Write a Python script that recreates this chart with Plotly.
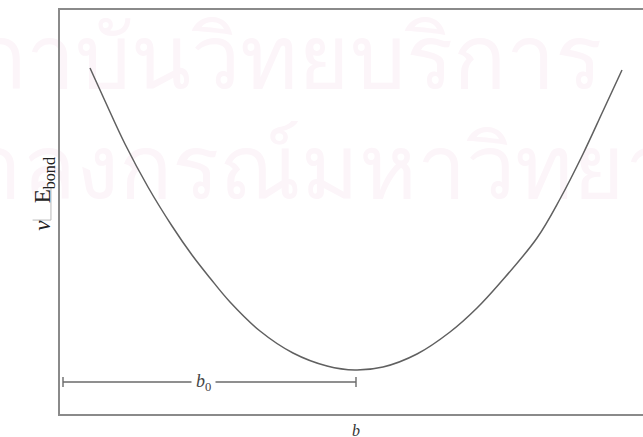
import plotly.graph_objects as go

# Bond-stretching energy curve: bond length b vs. energy E_bond
b_vals = [0.30, 0.45, 0.65, 0.88, 1.12, 1.32, 1.50, 1.70, 2.00, 2.33, 2.67, 2.95,
          3.23, 3.57, 3.90, 4.17, 4.40, 4.77, 5.00, 5.23, 5.43, 5.62]
e_vals = [3.46, 3.13, 2.70, 2.27, 1.88, 1.59, 1.36, 1.12, 0.83, 0.61, 0.48, 0.44,
          0.47, 0.60, 0.82, 1.06, 1.31, 1.76, 2.15, 2.60, 3.03, 3.44]

# Equilibrium bond length marker
b0_start = 0.03
b0_end = 2.96
b0_level = 0.32

watermark_lines = ["สถาบันวิทยบริการ", "จุฬาลงกรณ์มหาวิทยาลัย"]

fig = go.Figure()

# Faint background watermark, drawn first so it sits beneath the curve
fig.add_trace(go.Scatter(
    x=[2.0, 2.6], y=[3.48, 2.38], mode="text",
    text=watermark_lines, textposition="middle center",
    textfont=dict(size=88, color="#fcf5f9"),
    cliponaxis=False, hoverinfo="skip", showlegend=False,
))

fig.add_trace(go.Scatter(
    x=b_vals, y=e_vals, mode="lines",
    line=dict(color="#606060", width=1.5, shape="spline", smoothing=1.0),
    hoverinfo="skip", showlegend=False,
))

# b0 bracket with end ticks
fig.add_trace(go.Scatter(
    x=[b0_start, b0_end], y=[b0_level, b0_level], mode="lines",
    line=dict(color="#6a6a6a", width=1.4),
    hoverinfo="skip", showlegend=False,
))
for xb in (b0_start, b0_end):
    fig.add_trace(go.Scatter(
        x=[xb, xb], y=[b0_level - 0.05, b0_level + 0.05], mode="lines",
        line=dict(color="#6a6a6a", width=1.4),
        hoverinfo="skip", showlegend=False,
    ))

fig.add_annotation(
    x=(b0_start + b0_end) / 2 - 0.06, y=b0_level, xref="x", yref="y",
    text="<i>b</i><sub>0</sub>", showarrow=False, bgcolor="white",
    font=dict(family="Liberation Serif", size=18, color="#444444"),
    borderpad=4,
)

# Axis labels
fig.add_annotation(
    x=b0_end, y=-0.015, xref="x", yref="paper", yanchor="top",
    text="<i>b</i>", showarrow=False,
    font=dict(family="Liberation Serif", size=16, color="#333333"),
)
fig.add_annotation(
    x=-0.055, y=0.545, xref="paper", yref="paper",
    text="<i>v</i>&nbsp;&nbsp;&nbsp;E<sub>bond</sub>", textangle=-90, showarrow=False,
    font=dict(family="Liberation Serif", size=23, color="#222222"),
)

# Thin rule beside the axis label
fig.add_shape(type="line", xref="paper", yref="paper",
              x0=-0.0155, x1=-0.0155, y0=0.562, y1=0.480,
              line=dict(color="#b8b8b8", width=1))
fig.add_shape(type="line", xref="paper", yref="paper",
              x0=-0.047, x1=-0.0155, y0=0.480, y1=0.480,
              line=dict(color="#b8b8b8", width=1))

fig.update_xaxes(
    range=[0, 5.83], showgrid=False, zeroline=False, showticklabels=False,
    ticks="", showline=True, linecolor="#8a8a8a", linewidth=1.8, mirror=True,
)
fig.update_yaxes(
    range=[0, 4.04], showgrid=False, zeroline=False, showticklabels=False,
    ticks="", showline=True, linecolor="#8a8a8a", linewidth=1.8, mirror=False,
)

fig.update_layout(
    width=643, height=437,
    margin=dict(l=60, r=0, t=10, b=23),
    paper_bgcolor="white", plot_bgcolor="rgba(0,0,0,0)",
)

fig.write_html("out.html")
